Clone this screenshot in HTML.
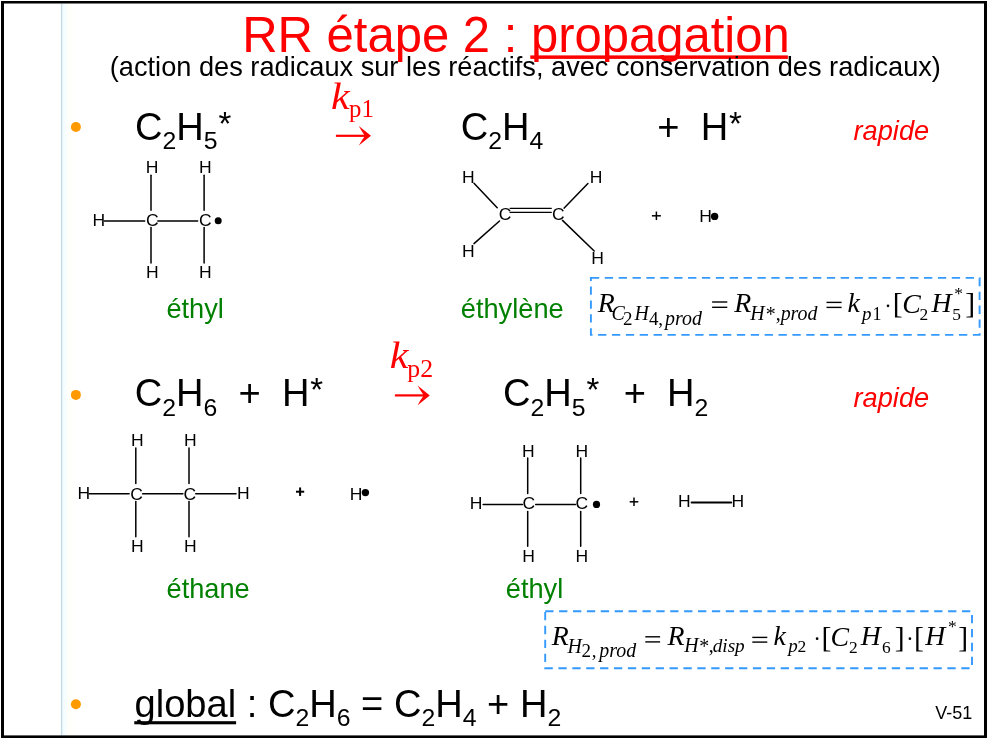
<!DOCTYPE html>
<html lang="fr">
<head>
<meta charset="utf-8">
<title>RR étape 2 : propagation</title>
<style>
html,body{margin:0;padding:0;background:#fff;}
#slide{position:relative;width:990px;height:740px;overflow:hidden;background:transparent;will-change:transform;font-family:"Liberation Sans", sans-serif;}
#slide svg{position:absolute;left:0;top:0;}
.t{position:absolute;white-space:pre;line-height:1;margin:0;padding:0;}
.t sub{position:relative;line-height:0;vertical-align:baseline;font-size:24.8px;top:9.2px;}
.t .ast{position:relative;line-height:0;font-size:33px;top:-5px;margin:0 1px 0 0.9px;}
.t u{text-decoration:none;}
</style>
</head>
<body>
<div id="slide">
<svg width="990" height="740" viewBox="0 0 990 740">
<defs>
<linearGradient id="lg" x1="0" y1="0" x2="1" y2="0">
<stop offset="0" stop-color="#eefbff"/><stop offset="0.28" stop-color="#f8feff"/><stop offset="0.5" stop-color="#fffef8"/><stop offset="1" stop-color="#ffffff"/>
</linearGradient>
</defs>
<rect x="62.1" y="3.5" width="13" height="732" fill="url(#lg)"/>
<rect x="60.95" y="3.5" width="1.25" height="732" fill="#c3dae3"/>
<rect x="1" y="1" width="3" height="737" fill="#000"/>
<rect x="984" y="1" width="3" height="737" fill="#000"/>
<rect x="1" y="1" width="986" height="2.5" fill="#000"/>
<rect x="1" y="735.4" width="986" height="2.6" fill="#000"/>
<circle cx="75.9" cy="127.0" r="5.0" fill="#ff9900"/>
<circle cx="75.9" cy="394.9" r="5.0" fill="#ff9900"/>
<circle cx="75.9" cy="704.2" r="5.0" fill="#ff9900"/>
<rect x="530.3" y="55.4" width="257.6" height="3.5" fill="#ff0000"/>
<rect x="134.3" y="721.2" width="101.8" height="3.1" fill="#000"/>
<g transform="translate(335.9 135.8)" fill="#ff0000"><rect x="0" y="-1.1" width="30.10" height="2.2"/><path d="M35.10,0 L22.90,-9.8 Q25.50,-5.0 28.30,-1.1 L28.30,1.1 Q25.50,5.0 22.90,9.8 Z"/></g>
<g transform="translate(394.9 395.4)" fill="#ff0000"><rect x="0" y="-1.1" width="29.90" height="2.2"/><path d="M34.90,0 L22.70,-9.8 Q25.30,-5.0 28.10,-1.1 L28.10,1.1 Q25.30,5.0 22.70,9.8 Z"/></g>
<text transform="translate(330.99 108.80) scale(1.12 1.0)" font-family='"Liberation Serif", serif' font-size="37.6" style="font-style:italic;" fill="#ff0000" >k</text>
<text transform="translate(349.10 116.80) scale(1.02 1.0)" font-family='"Liberation Serif", serif' font-size="24.3" style="" fill="#ff0000" >p1</text>
<text transform="translate(389.69 367.90) scale(1.12 1.0)" font-family='"Liberation Serif", serif' font-size="37.6" style="font-style:italic;" fill="#ff0000" >k</text>
<text transform="translate(407.28 376.80) scale(1.06 1.0)" font-family='"Liberation Serif", serif' font-size="24.3" style="" fill="#ff0000" >p2</text>
<text transform="translate(152.10 173.24) scale(1.05 1.0)" text-anchor="middle" font-family='"Liberation Sans", sans-serif' font-size="16.7" fill="#000">H</text>
<text transform="translate(205.30 173.24) scale(1.05 1.0)" text-anchor="middle" font-family='"Liberation Sans", sans-serif' font-size="16.7" fill="#000">H</text>
<text transform="translate(152.20 225.94) scale(1.05 1.0)" text-anchor="middle" font-family='"Liberation Sans", sans-serif' font-size="16.7" fill="#000">C</text>
<text transform="translate(205.30 225.94) scale(1.05 1.0)" text-anchor="middle" font-family='"Liberation Sans", sans-serif' font-size="16.7" fill="#000">C</text>
<text transform="translate(98.90 225.94) scale(1.05 1.0)" text-anchor="middle" font-family='"Liberation Sans", sans-serif' font-size="16.7" fill="#000">H</text>
<text transform="translate(152.40 278.24) scale(1.05 1.0)" text-anchor="middle" font-family='"Liberation Sans", sans-serif' font-size="16.7" fill="#000">H</text>
<text transform="translate(205.30 278.24) scale(1.05 1.0)" text-anchor="middle" font-family='"Liberation Sans", sans-serif' font-size="16.7" fill="#000">H</text>
<line x1="151.0" y1="175.2" x2="151.0" y2="210.3" stroke="#000" stroke-width="1.5" stroke-linecap="round"/>
<line x1="151.0" y1="227.4" x2="151.0" y2="263.0" stroke="#000" stroke-width="1.5" stroke-linecap="round"/>
<line x1="204.1" y1="175.2" x2="204.1" y2="210.3" stroke="#000" stroke-width="1.5" stroke-linecap="round"/>
<line x1="204.1" y1="227.4" x2="204.1" y2="263.0" stroke="#000" stroke-width="1.5" stroke-linecap="round"/>
<line x1="104.3" y1="220.9" x2="144.7" y2="220.9" stroke="#000" stroke-width="1.5" stroke-linecap="round"/>
<line x1="157.8" y1="220.9" x2="197.6" y2="220.9" stroke="#000" stroke-width="1.5" stroke-linecap="round"/>
<circle cx="218.2" cy="220.8" r="3.5" fill="#000"/>
<text transform="translate(468.20 183.44) scale(1.05 1.0)" text-anchor="middle" font-family='"Liberation Sans", sans-serif' font-size="16.7" fill="#000">H</text>
<text transform="translate(468.20 256.94) scale(1.05 1.0)" text-anchor="middle" font-family='"Liberation Sans", sans-serif' font-size="16.7" fill="#000">H</text>
<text transform="translate(596.10 183.44) scale(1.05 1.0)" text-anchor="middle" font-family='"Liberation Sans", sans-serif' font-size="16.7" fill="#000">H</text>
<text transform="translate(597.50 264.44) scale(1.05 1.0)" text-anchor="middle" font-family='"Liberation Sans", sans-serif' font-size="16.7" fill="#000">H</text>
<text transform="translate(505.10 220.04) scale(1.05 1.0)" text-anchor="middle" font-family='"Liberation Sans", sans-serif' font-size="16.7" fill="#000">C</text>
<text transform="translate(558.20 220.04) scale(1.05 1.0)" text-anchor="middle" font-family='"Liberation Sans", sans-serif' font-size="16.7" fill="#000">C</text>
<line x1="510.1" y1="208.3" x2="551.3" y2="208.3" stroke="#000" stroke-width="1.2" stroke-linecap="round"/>
<line x1="510.1" y1="212.4" x2="551.3" y2="212.4" stroke="#000" stroke-width="1.2" stroke-linecap="round"/>
<line x1="474" y1="183.2" x2="497.2" y2="207.7" stroke="#000" stroke-width="1.5" stroke-linecap="round"/>
<line x1="499.5" y1="221" x2="474" y2="243.6" stroke="#000" stroke-width="1.5" stroke-linecap="round"/>
<line x1="564.2" y1="208.1" x2="587.9" y2="183.5" stroke="#000" stroke-width="1.5" stroke-linecap="round"/>
<line x1="562.5" y1="220.4" x2="594.2" y2="251" stroke="#000" stroke-width="1.5" stroke-linecap="round"/>
<line x1="651.9" y1="215.8" x2="660.9" y2="215.8" stroke="#000" stroke-width="1.5" stroke-linecap="butt"/>
<line x1="656.4" y1="211.55" x2="656.4" y2="220.05" stroke="#000" stroke-width="1.5" stroke-linecap="butt"/>
<text transform="translate(705.50 221.74) scale(1.05 1.0)" text-anchor="middle" font-family='"Liberation Sans", sans-serif' font-size="16.7" fill="#000">H</text>
<circle cx="714.6" cy="216.4" r="3.7" fill="#000"/>
<text transform="translate(137.20 446.24) scale(1.05 1.0)" text-anchor="middle" font-family='"Liberation Sans", sans-serif' font-size="16.7" fill="#000">H</text>
<text transform="translate(190.20 446.24) scale(1.05 1.0)" text-anchor="middle" font-family='"Liberation Sans", sans-serif' font-size="16.7" fill="#000">H</text>
<text transform="translate(136.50 499.54) scale(1.05 1.0)" text-anchor="middle" font-family='"Liberation Sans", sans-serif' font-size="16.7" fill="#000">C</text>
<text transform="translate(189.70 499.54) scale(1.05 1.0)" text-anchor="middle" font-family='"Liberation Sans", sans-serif' font-size="16.7" fill="#000">C</text>
<text transform="translate(83.90 499.34) scale(1.05 1.0)" text-anchor="middle" font-family='"Liberation Sans", sans-serif' font-size="16.7" fill="#000">H</text>
<text transform="translate(243.20 499.34) scale(1.05 1.0)" text-anchor="middle" font-family='"Liberation Sans", sans-serif' font-size="16.7" fill="#000">H</text>
<text transform="translate(137.20 551.84) scale(1.05 1.0)" text-anchor="middle" font-family='"Liberation Sans", sans-serif' font-size="16.7" fill="#000">H</text>
<text transform="translate(190.40 551.84) scale(1.05 1.0)" text-anchor="middle" font-family='"Liberation Sans", sans-serif' font-size="16.7" fill="#000">H</text>
<line x1="135.8" y1="448.0" x2="135.8" y2="483.5" stroke="#000" stroke-width="1.5" stroke-linecap="round"/>
<line x1="135.8" y1="501.4" x2="135.8" y2="536.7" stroke="#000" stroke-width="1.5" stroke-linecap="round"/>
<line x1="189.0" y1="448.0" x2="189.0" y2="483.5" stroke="#000" stroke-width="1.5" stroke-linecap="round"/>
<line x1="189.0" y1="501.4" x2="189.0" y2="536.7" stroke="#000" stroke-width="1.5" stroke-linecap="round"/>
<line x1="89.2" y1="493.7" x2="129.1" y2="493.7" stroke="#000" stroke-width="1.5" stroke-linecap="round"/>
<line x1="142.6" y1="493.7" x2="182.9" y2="493.7" stroke="#000" stroke-width="1.5" stroke-linecap="round"/>
<line x1="195.7" y1="493.7" x2="236.0" y2="493.7" stroke="#000" stroke-width="1.5" stroke-linecap="round"/>
<line x1="296.0" y1="491.7" x2="304.20000000000005" y2="491.7" stroke="#000" stroke-width="2.0" stroke-linecap="butt"/>
<line x1="300.1" y1="487.45" x2="300.1" y2="495.95" stroke="#000" stroke-width="2.0" stroke-linecap="butt"/>
<text transform="translate(356.10 499.64) scale(1.05 1.0)" text-anchor="middle" font-family='"Liberation Sans", sans-serif' font-size="16.7" fill="#000">H</text>
<circle cx="365.4" cy="492.6" r="3.7" fill="#000"/>
<text transform="translate(528.40 456.84) scale(1.05 1.0)" text-anchor="middle" font-family='"Liberation Sans", sans-serif' font-size="16.7" fill="#000">H</text>
<text transform="translate(581.70 456.84) scale(1.05 1.0)" text-anchor="middle" font-family='"Liberation Sans", sans-serif' font-size="16.7" fill="#000">H</text>
<text transform="translate(528.80 509.14) scale(1.05 1.0)" text-anchor="middle" font-family='"Liberation Sans", sans-serif' font-size="16.7" fill="#000">C</text>
<text transform="translate(581.70 509.14) scale(1.05 1.0)" text-anchor="middle" font-family='"Liberation Sans", sans-serif' font-size="16.7" fill="#000">C</text>
<text transform="translate(476.00 509.24) scale(1.05 1.0)" text-anchor="middle" font-family='"Liberation Sans", sans-serif' font-size="16.7" fill="#000">H</text>
<text transform="translate(528.60 561.94) scale(1.05 1.0)" text-anchor="middle" font-family='"Liberation Sans", sans-serif' font-size="16.7" fill="#000">H</text>
<text transform="translate(581.70 561.94) scale(1.05 1.0)" text-anchor="middle" font-family='"Liberation Sans", sans-serif' font-size="16.7" fill="#000">H</text>
<line x1="527.7" y1="458.1" x2="527.7" y2="493.6" stroke="#000" stroke-width="1.5" stroke-linecap="round"/>
<line x1="527.7" y1="511.6" x2="527.7" y2="546.2" stroke="#000" stroke-width="1.5" stroke-linecap="round"/>
<line x1="580.7" y1="458.1" x2="580.7" y2="493.6" stroke="#000" stroke-width="1.5" stroke-linecap="round"/>
<line x1="580.7" y1="511.6" x2="580.7" y2="546.2" stroke="#000" stroke-width="1.5" stroke-linecap="round"/>
<line x1="483.1" y1="504.4" x2="522.4" y2="504.4" stroke="#000" stroke-width="1.5" stroke-linecap="round"/>
<line x1="535.7" y1="504.4" x2="575.4" y2="504.4" stroke="#000" stroke-width="1.5" stroke-linecap="round"/>
<circle cx="596.5" cy="504.4" r="3.6" fill="#000"/>
<line x1="629.7" y1="501.8" x2="638.3" y2="501.8" stroke="#000" stroke-width="1.5" stroke-linecap="butt"/>
<line x1="634.0" y1="497.6" x2="634.0" y2="506.0" stroke="#000" stroke-width="1.5" stroke-linecap="butt"/>
<text transform="translate(684.20 507.44) scale(1.05 1.0)" text-anchor="middle" font-family='"Liberation Sans", sans-serif' font-size="16.7" fill="#000">H</text>
<text transform="translate(737.70 507.44) scale(1.05 1.0)" text-anchor="middle" font-family='"Liberation Sans", sans-serif' font-size="16.7" fill="#000">H</text>
<line x1="691.6" y1="502.5" x2="731.2" y2="502.5" stroke="#000" stroke-width="2.0" stroke-linecap="round"/>
<rect x="590.9" y="277.9" width="388.7" height="57.0" fill="none" stroke="#3399ff" stroke-width="1.9" stroke-dasharray="8.3 5.58"/>
<rect x="545.2" y="611.2" width="426.8" height="57.0" fill="none" stroke="#3399ff" stroke-width="1.9" stroke-dasharray="8.3 5.592"/>
<text transform="translate(597.65 312.40)" font-family='"Liberation Serif", serif' font-size="27.8" style="font-style:italic;" fill="#000" >R</text>
<text transform="translate(611.49 320.10)" font-family='"Liberation Serif", serif' font-size="19.9" style="font-style:italic;" fill="#000" >C</text>
<text transform="translate(623.07 324.80)" font-family='"Liberation Serif", serif' font-size="19.0" style="" fill="#000" >2</text>
<text transform="translate(634.41 320.00)" font-family='"Liberation Serif", serif' font-size="19.9" style="font-style:italic;" fill="#000" >H</text>
<text transform="translate(649.03 324.80)" font-family='"Liberation Serif", serif' font-size="19.0" style="" fill="#000" >4</text>
<text transform="translate(658.28 324.80)" font-family='"Liberation Serif", serif' font-size="19.0" style="" fill="#000" >,</text>
<text transform="translate(665.07 324.70)" font-family='"Liberation Serif", serif' font-size="19.9" style="font-style:italic;" fill="#000" >prod</text>
<line x1="712.1" y1="302.0" x2="727.3" y2="302.0" stroke="#000" stroke-width="1.4" stroke-linecap="butt"/>
<line x1="712.1" y1="307.3" x2="727.3" y2="307.3" stroke="#000" stroke-width="1.4" stroke-linecap="butt"/>
<text transform="translate(734.25 312.30)" font-family='"Liberation Serif", serif' font-size="27.8" style="font-style:italic;" fill="#000" >R</text>
<text transform="translate(750.21 319.70)" font-family='"Liberation Serif", serif' font-size="19.9" style="font-style:italic;" fill="#000" >H</text>
<text transform="translate(765.73 320.70)" font-family='"Liberation Serif", serif' font-size="19.9" style="" fill="#000" >*</text>
<text transform="translate(775.74 319.70)" font-family='"Liberation Serif", serif' font-size="19.9" style="" fill="#000" >,</text>
<text transform="translate(780.67 319.70)" font-family='"Liberation Serif", serif' font-size="19.9" style="font-style:italic;" fill="#000" >prod</text>
<line x1="826.5" y1="302.4" x2="841.6" y2="302.4" stroke="#000" stroke-width="1.4" stroke-linecap="butt"/>
<line x1="826.5" y1="307.4" x2="841.6" y2="307.4" stroke="#000" stroke-width="1.4" stroke-linecap="butt"/>
<text transform="translate(847.60 312.00)" font-family='"Liberation Serif", serif' font-size="27.8" style="font-style:italic;" fill="#000" >k</text>
<text transform="translate(862.11 319.60)" font-family='"Liberation Serif", serif' font-size="19.0" style="font-style:italic;" fill="#000" >p</text>
<text transform="translate(872.42 319.50)" font-family='"Liberation Serif", serif' font-size="18" style="" fill="#000" >1</text>
<circle cx="888.0" cy="305.8" r="1.35" fill="#000"/>
<text transform="translate(892.80 312.80)" font-family='"Liberation Serif", serif' font-size="29.7" style="" fill="#000" >[</text>
<text transform="translate(902.15 312.60)" font-family='"Liberation Serif", serif' font-size="27.8" style="font-style:italic;" fill="#000" >C</text>
<text transform="translate(919.54 319.50)" font-family='"Liberation Serif", serif' font-size="17.4" style="" fill="#000" >2</text>
<text transform="translate(931.50 312.20)" font-family='"Liberation Serif", serif' font-size="27.8" style="font-style:italic;" fill="#000" >H</text>
<text transform="translate(952.29 319.50)" font-family='"Liberation Serif", serif' font-size="17.4" style="" fill="#000" >5</text>
<text transform="translate(954.25 298.90)" font-family='"Liberation Serif", serif' font-size="17.5" style="" fill="#000" >*</text>
<text transform="translate(965.33 312.80)" font-family='"Liberation Serif", serif' font-size="29.7" style="" fill="#000" >]</text>
<text transform="translate(551.85 645.40)" font-family='"Liberation Serif", serif' font-size="27.8" style="font-style:italic;" fill="#000" >R</text>
<text transform="translate(567.41 652.50)" font-family='"Liberation Serif", serif' font-size="19.9" style="font-style:italic;" fill="#000" >H</text>
<text transform="translate(581.57 657.40)" font-family='"Liberation Serif", serif' font-size="19.0" style="" fill="#000" >2</text>
<text transform="translate(591.78 657.40)" font-family='"Liberation Serif", serif' font-size="19.0" style="" fill="#000" >,</text>
<text transform="translate(599.37 657.00)" font-family='"Liberation Serif", serif' font-size="19.9" style="font-style:italic;" fill="#000" >prod</text>
<line x1="645.3" y1="636.8" x2="660.1" y2="636.8" stroke="#000" stroke-width="1.4" stroke-linecap="butt"/>
<line x1="645.3" y1="641.9" x2="660.1" y2="641.9" stroke="#000" stroke-width="1.4" stroke-linecap="butt"/>
<text transform="translate(667.45 645.30)" font-family='"Liberation Serif", serif' font-size="27.8" style="font-style:italic;" fill="#000" >R</text>
<text transform="translate(684.21 652.20)" font-family='"Liberation Serif", serif' font-size="19.9" style="font-style:italic;" fill="#000" >H</text>
<text transform="translate(699.23 653.20)" font-family='"Liberation Serif", serif' font-size="19.9" style="" fill="#000" >*</text>
<text transform="translate(708.74 652.20)" font-family='"Liberation Serif", serif' font-size="19.9" style="" fill="#000" >,</text>
<text transform="translate(712.72 652.20)" font-family='"Liberation Serif", serif' font-size="19.2" style="font-style:italic;" fill="#000" >disp</text>
<line x1="752.3" y1="637.4" x2="767.3" y2="637.4" stroke="#000" stroke-width="1.4" stroke-linecap="butt"/>
<line x1="752.3" y1="642.1" x2="767.3" y2="642.1" stroke="#000" stroke-width="1.4" stroke-linecap="butt"/>
<text transform="translate(773.40 645.20)" font-family='"Liberation Serif", serif' font-size="27.8" style="font-style:italic;" fill="#000" >k</text>
<text transform="translate(788.21 652.10)" font-family='"Liberation Serif", serif' font-size="19.0" style="font-style:italic;" fill="#000" >p</text>
<text transform="translate(797.43 652.10)" font-family='"Liberation Serif", serif' font-size="17.5" style="" fill="#000" >2</text>
<circle cx="817.1" cy="638.7" r="1.35" fill="#000"/>
<text transform="translate(821.60 646.70)" font-family='"Liberation Serif", serif' font-size="29.7" style="" fill="#000" >[</text>
<text transform="translate(830.55 645.80)" font-family='"Liberation Serif", serif' font-size="27.8" style="font-style:italic;" fill="#000" >C</text>
<text transform="translate(849.04 653.00)" font-family='"Liberation Serif", serif' font-size="17.4" style="" fill="#000" >2</text>
<text transform="translate(860.70 645.30)" font-family='"Liberation Serif", serif' font-size="27.8" style="font-style:italic;" fill="#000" >H</text>
<text transform="translate(882.05 653.00)" font-family='"Liberation Serif", serif' font-size="17.4" style="" fill="#000" >6</text>
<text transform="translate(894.63 646.70)" font-family='"Liberation Serif", serif' font-size="29.7" style="" fill="#000" >]</text>
<circle cx="909.9" cy="638.7" r="1.35" fill="#000"/>
<text transform="translate(913.90 646.70)" font-family='"Liberation Serif", serif' font-size="29.7" style="" fill="#000" >[</text>
<text transform="translate(925.20 645.30)" font-family='"Liberation Serif", serif' font-size="27.8" style="font-style:italic;" fill="#000" >H</text>
<text transform="translate(947.95 632.10)" font-family='"Liberation Serif", serif' font-size="17.5" style="" fill="#000" >*</text>
<text transform="translate(958.33 646.70)" font-family='"Liberation Serif", serif' font-size="29.7" style="" fill="#000" >]</text>
</svg>
<div class="t title" style="left:242.18px;top:10.62px;font-size:49.0px;color:#ff0000;transform:scaleY(1.035);transform-origin:0 41.48px;">RR étape 2 : <u>propagation</u></div>
<div class="t " style="left:109.81px;top:53.38px;font-size:27.2px;color:#000;">(action des radicaux sur les réactifs, avec conservation des radicaux)</div>
<div class="t " style="left:134.97px;top:108.05px;font-size:38.1px;color:#000;">C<sub>2</sub>H<sub>5</sub><span class="ast">*</span></div>
<div class="t " style="left:460.67px;top:108.05px;font-size:38.1px;color:#000;">C<sub>2</sub>H<sub>4</sub></div>
<div class="t " style="left:657.24px;top:108.05px;font-size:38.1px;color:#000;">+  H<span class="ast">*</span></div>
<div class="t " style="left:853.55px;top:116.98px;font-size:27.2px;color:#ff0000;font-style:italic;">rapide</div>
<div class="t " style="left:134.77px;top:374.45px;font-size:38.1px;color:#000;">C<sub>2</sub>H<sub>6</sub>  +  H<span class="ast">*</span></div>
<div class="t " style="left:503.07px;top:374.45px;font-size:38.1px;color:#000;">C<sub>2</sub>H<sub>5</sub><span class="ast">*</span></div>
<div class="t " style="left:623.84px;top:374.45px;font-size:38.1px;color:#000;">+</div>
<div class="t " style="left:666.97px;top:374.45px;font-size:38.1px;color:#000;">H<sub>2</sub></div>
<div class="t " style="left:853.55px;top:383.58px;font-size:27.2px;color:#ff0000;font-style:italic;">rapide</div>
<div class="t " style="left:134.50px;top:684.95px;font-size:38.1px;color:#000;"><u>global</u> : C<sub>2</sub>H<sub>6</sub> = C<sub>2</sub>H<sub>4</sub> + H<sub>2</sub></div>
<div class="t " style="left:166.44px;top:294.88px;font-size:27.2px;color:#008000;">éthyl</div>
<div class="t " style="left:460.84px;top:294.78px;font-size:27.2px;color:#008000;">éthylène</div>
<div class="t " style="left:166.54px;top:575.18px;font-size:27.2px;color:#008000;">éthane</div>
<div class="t " style="left:505.84px;top:575.18px;font-size:27.2px;color:#008000;">éthyl</div>
<div class="t " style="left:935.32px;top:703.56px;font-size:18px;color:#000;">V-51</div>
</div>
</body>
</html>
